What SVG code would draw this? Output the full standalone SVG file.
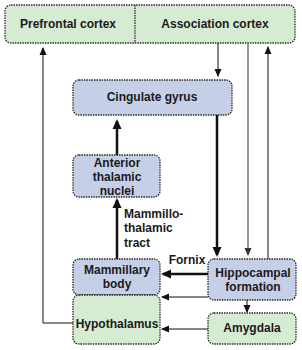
<svg xmlns="http://www.w3.org/2000/svg" width="302" height="350" viewBox="0 0 302 350">
<style>
.g{fill:#d5ecd3;stroke:#2a2a2a;stroke-width:1.3;stroke-dasharray:1.5 1}
.b{fill:#c6cfe8;stroke:#2a2a2a;stroke-width:1.3;stroke-dasharray:1.5 1}
text{font-family:"Liberation Sans",Arial,sans-serif;font-weight:bold;font-size:12px;fill:#1a1a1a;text-anchor:middle}
.c{fill:none;stroke:#111;stroke-width:1}
.t{fill:none;stroke:#111;stroke-width:2.5}
.gr{fill:none;stroke:#777;stroke-width:1.5}
</style>
<defs>
<marker id="a" markerWidth="8" markerHeight="8" refX="7" refY="4" orient="auto" markerUnits="userSpaceOnUse"><path d="M0,0.5L8,4L0,7.5z" fill="#111"/></marker>
<marker id="at" markerWidth="10" markerHeight="10" refX="8" refY="5" orient="auto" markerUnits="userSpaceOnUse"><path d="M0,0.5L10,5L0,9.5z" fill="#111"/></marker>
<marker id="ag" markerWidth="8" markerHeight="8" refX="7" refY="4" orient="auto" markerUnits="userSpaceOnUse"><path d="M0,0.5L8,4L0,7.5z" fill="#333"/></marker>
</defs>
<g id="cortex">
<rect class="g" x="5" y="5" width="290" height="38" rx="6"/>
<line x1="135" y1="5" x2="135" y2="43" stroke="#2a2a2a" stroke-width="1.3" stroke-dasharray="1.5 1"/>
<text x="68" y="28">Prefrontal cortex</text>
<text x="215" y="28">Association cortex</text>
</g>
<g id="cingulate"><rect class="b" x="73" y="80" width="159" height="35" rx="6"/><text x="152" y="101">Cingulate gyrus</text></g>
<g id="anterior"><rect class="b" x="73" y="155" width="87" height="42" rx="6"/><text x="117" y="167">Anterior</text><text x="117" y="181">thalamic</text><text x="117" y="195">nuclei</text></g>
<g id="mammillary"><rect class="b" x="73" y="259" width="87" height="36" rx="6"/><text x="117" y="274">Mammillary</text><text x="117" y="288">body</text></g>
<g id="hypothalamus"><rect class="g" x="73" y="295" width="87" height="49" rx="6"/><text x="117" y="328">Hypothalamus</text></g>
<g id="hippocampal"><rect class="b" x="208" y="259" width="88" height="41" rx="6"/><text x="253" y="277">Hippocampal</text><text x="253" y="291">formation</text></g>
<g id="amygdala"><rect class="g" x="208" y="313" width="88" height="31" rx="6"/><text x="252" y="332">Amygdala</text></g>
<g id="connectors">
<line class="c" x1="218" y1="43" x2="218" y2="76" marker-end="url(#a)"/>
<line class="gr" x1="248" y1="43" x2="248" y2="255" marker-end="url(#ag)"/>
<line class="c" x1="268" y1="259" x2="268" y2="47" marker-end="url(#a)"/>
<line class="t" x1="117" y1="155" x2="117" y2="121" marker-end="url(#at)"/>
<line class="t" x1="117" y1="259" x2="117" y2="200" marker-end="url(#at)"/>
<line class="t" x1="217" y1="115" x2="217" y2="255" marker-end="url(#at)"/>
<line class="t" x1="208" y1="274" x2="163" y2="274" marker-end="url(#at)"/>
<line class="c" x1="208" y1="297" x2="162" y2="297" marker-end="url(#a)"/>
<line class="c" x1="247" y1="300" x2="247" y2="312" marker-end="url(#a)"/>
<line class="c" x1="208" y1="329" x2="162" y2="329" marker-end="url(#a)"/>
<polyline class="c" points="73,323 43,323 43,48" marker-end="url(#a)"/>
<text x="187" y="264">Fornix</text>
<text x="124" y="218" style="text-anchor:start">Mammillo-</text>
<text x="124" y="232" style="text-anchor:start">thalamic</text>
<text x="124" y="247" style="text-anchor:start">tract</text>
</g>
</svg>
